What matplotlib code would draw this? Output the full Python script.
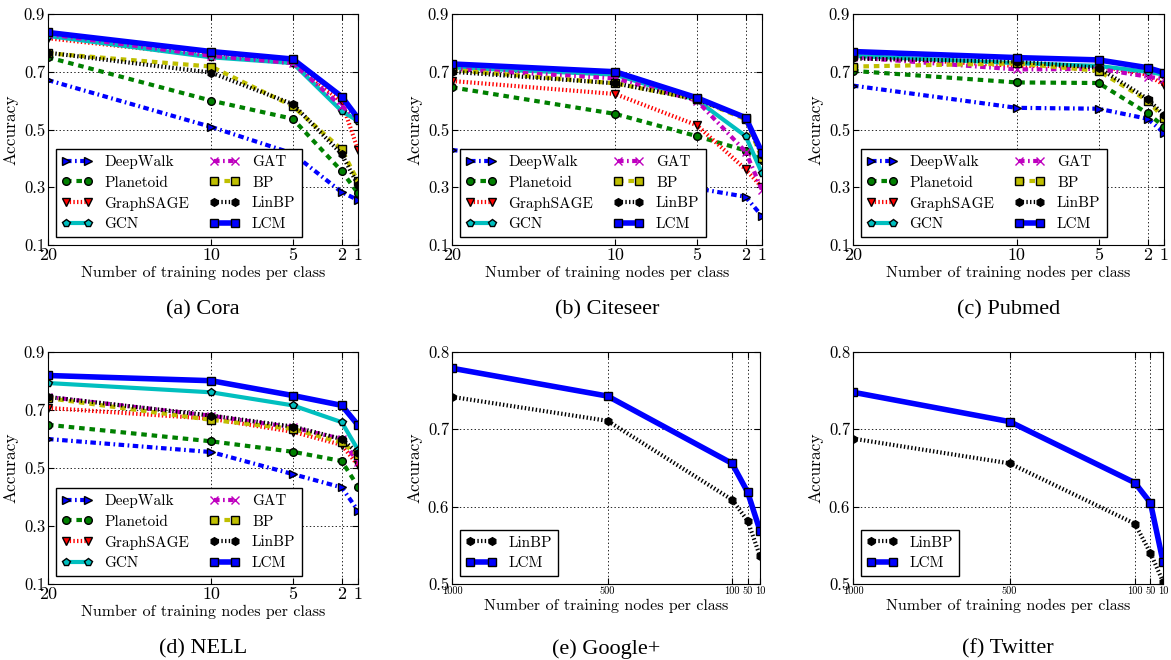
import matplotlib
matplotlib.use("Agg")
import matplotlib.pyplot as plt

plt.rcParams['font.family'] = ['cmr10', 'DejaVu Serif']
plt.rcParams['axes.formatter.use_mathtext'] = True
plt.rcParams['lines.scale_dashes'] = False

# x values (training nodes per class)
small_x = [20, 10, 5, 2, 1]
big_x = [1000, 500, 100, 50, 10]

methods = ["DeepWalk", "Planetoid", "GraphSAGE", "GCN", "GAT", "BP", "LinBP", "LCM"]

cora = {
    "DeepWalk":  [0.671, 0.509, 0.417, 0.283, 0.256],
    "Planetoid": [0.750, 0.600, 0.537, 0.356, 0.279],
    "GraphSAGE": [0.816, 0.755, 0.730, 0.596, 0.429],
    "GCN":       [0.824, 0.750, 0.730, 0.564, 0.530],
    "GAT":       [0.830, 0.755, 0.730, 0.580, 0.540],
    "BP":        [0.764, 0.718, 0.581, 0.431, 0.320],
    "LinBP":     [0.766, 0.697, 0.588, 0.415, 0.307],
    "LCM":       [0.836, 0.770, 0.744, 0.614, 0.539],
}
citeseer = {
    "DeepWalk":  [0.429, 0.370, 0.296, 0.267, 0.200],
    "Planetoid": [0.646, 0.554, 0.477, 0.427, 0.394],
    "GraphSAGE": [0.668, 0.623, 0.515, 0.362, 0.300],
    "GCN":       [0.715, 0.690, 0.602, 0.477, 0.348],
    "GAT":       [0.710, 0.677, 0.600, 0.423, 0.290],
    "BP":        [0.706, 0.660, 0.605, 0.535, 0.400],
    "LinBP":     [0.700, 0.660, 0.605, 0.540, 0.410],
    "LCM":       [0.727, 0.700, 0.610, 0.541, 0.420],
}
pubmed = {
    "DeepWalk":  [0.652, 0.575, 0.572, 0.537, 0.489],
    "Planetoid": [0.703, 0.663, 0.661, 0.556, 0.510],
    "GraphSAGE": [0.755, 0.720, 0.720, 0.690, 0.654],
    "GCN":       [0.755, 0.730, 0.720, 0.700, 0.690],
    "GAT":       [0.750, 0.708, 0.710, 0.683, 0.675],
    "BP":        [0.718, 0.729, 0.703, 0.600, 0.539],
    "LinBP":     [0.746, 0.735, 0.714, 0.606, 0.550],
    "LCM":       [0.770, 0.749, 0.741, 0.714, 0.697],
}
nell = {
    "DeepWalk":  [0.600, 0.555, 0.479, 0.433, 0.353],
    "Planetoid": [0.649, 0.592, 0.556, 0.524, 0.436],
    "GraphSAGE": [0.707, 0.670, 0.625, 0.580, 0.509],
    "GCN":       [0.793, 0.761, 0.716, 0.658, 0.563],
    "GAT":       [0.745, 0.680, 0.640, 0.600, 0.520],
    "BP":        [0.741, 0.666, 0.635, 0.588, 0.545],
    "LinBP":     [0.745, 0.681, 0.643, 0.600, 0.551],
    "LCM":       [0.819, 0.801, 0.750, 0.716, 0.648],
}
google = {
    "LinBP": [0.742, 0.711, 0.609, 0.582, 0.536],
    "LCM":   [0.779, 0.743, 0.656, 0.619, 0.569],
}
twitter = {
    "LinBP": [0.688, 0.656, 0.578, 0.540, 0.503],
    "LCM":   [0.748, 0.710, 0.631, 0.605, 0.529],
}

styles = {
    "DeepWalk":  dict(color='b', ls=(0, (4, 2.5, 1.2, 2.5)), marker='>', lw=3),
    "Planetoid": dict(color=(0, 0.5, 0), ls=(0, (4, 3.5)), marker='o', lw=3),
    "GraphSAGE": dict(color='r', ls=':', marker='v', lw=3),
    "GCN":       dict(color=(0, 0.75, 0.75), ls='-', marker='p', lw=3),
    "GAT":       dict(color=(0.75, 0, 0.75), ls=(0, (4, 2.5, 1.2, 2.5)), marker='x', lw=3),
    "BP":        dict(color=(0.75, 0.75, 0), ls=(0, (4, 3.5)), marker='s', lw=3),
    "LinBP":     dict(color='k', ls=':', marker='h', lw=3),
    "LCM":       dict(color='b', ls='-', marker='s', lw=4),
}

fig = plt.figure(figsize=(11.71, 6.6), dpi=100)
W, H = 1171.0, 660.0


def make_axes(left, right, top, bottom):
    return fig.add_axes([left / W, 1 - bottom / H, (right - left) / W, (bottom - top) / H])


def draw(ax, xs, data, ylim, yticks, xtick_size, caption):
    for name in data:
        st = styles[name]
        mec = 'k'
        if st['marker'] == 'x':
            mec = st['color']
        ax.plot(xs, data[name], color=st['color'], linestyle=st['ls'], linewidth=st['lw'],
                marker=st['marker'], markersize=5.5, markeredgecolor=mec,
                markeredgewidth=1, label=name)
    ax.set_xlim(xs[0], xs[-1])
    ax.set_ylim(*ylim)
    ax.set_xticks(xs)
    ax.set_xticklabels([str(v) for v in xs], fontsize=xtick_size)
    ax.set_yticks(yticks)
    ax.set_yticklabels([str(v) for v in yticks], fontsize=12)
    ax.tick_params(direction='in', top=True, right=True, length=4, pad=2)
    ax.grid(True, color='k', linestyle=':', linewidth=0.6)
    ax.set_xlabel("Number of training nodes per class", fontsize=11.5, labelpad=2)
    ax.set_ylabel("Accuracy", fontsize=12.5, labelpad=4)
    ncol = 2 if len(data) > 2 else 1
    leg = ax.legend(loc='lower left', ncol=ncol, fontsize=11, numpoints=2,
                    fancybox=False, framealpha=1, edgecolor='k',
                    handlelength=2.0, handletextpad=0.8, columnspacing=1.3,
                    borderaxespad=0.5, labelspacing=0.45)
    leg.get_frame().set_linewidth(1.0)
    ax.text(0.5, -0.28, caption, transform=ax.transAxes, ha='center', va='center',
            fontsize=16, family='Liberation Serif')


small_ticks = [0.1, 0.3, 0.5, 0.7, 0.9]
big_ticks = [0.5, 0.6, 0.7, 0.8]

ax = make_axes(48, 358, 14, 245)
draw(ax, small_x, cora, (0.1, 0.9), small_ticks, 13, "(a) Cora")
ax = make_axes(452, 762, 14, 245)
draw(ax, small_x, citeseer, (0.1, 0.9), small_ticks, 13, "(b) Citeseer")
ax = make_axes(853, 1164, 14, 245)
draw(ax, small_x, pubmed, (0.1, 0.9), small_ticks, 13, "(c) Pubmed")
ax = make_axes(48, 358, 352, 584)
draw(ax, small_x, nell, (0.1, 0.9), small_ticks, 13, "(d) NELL")
ax = make_axes(452, 760, 352, 584)
draw(ax, big_x, google, (0.5, 0.8), big_ticks, 7.5, "(e) Google+")
ax = make_axes(853, 1163, 352, 584)
draw(ax, big_x, twitter, (0.5, 0.8), big_ticks, 7.5, "(f) Twitter")

fig.savefig("out.png", dpi=100)
